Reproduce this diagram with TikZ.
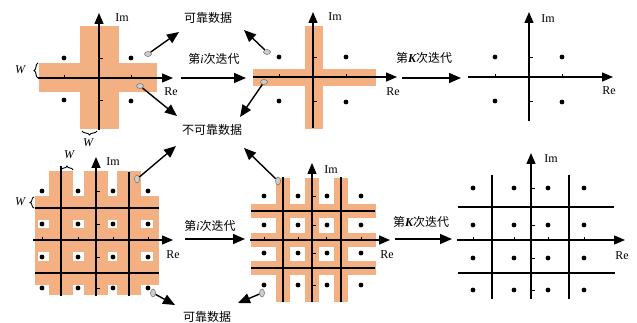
\documentclass[tikz,border=0pt]{standalone}
\usepackage{fontspec}
\setmainfont{Liberation Serif}
\newfontfamily\zhfont{Noto Sans CJK SC}
\usetikzlibrary{arrows.meta,decorations.pathreplacing,shapes.geometric}
\definecolor{regFill}{HTML}{F3B183}
\definecolor{markFill}{HTML}{CDCDCD}
\definecolor{markEdge}{HTML}{707070}
\tikzset{
  axisline/.style={line width=1.4pt,-{Triangle[length=11pt,width=9pt]}},
  gridline/.style={line width=1.9pt},
  tickline/.style={line width=0.9pt},
  datamark/.style={ellipse,draw=markEdge,fill=markFill,line width=0.5pt,inner sep=0pt,
                   minimum width=7pt,minimum height=5pt},
  datamarkv/.style={datamark,minimum width=5pt,minimum height=8pt},
  flow/.style={-{Triangle[length=12pt,width=10pt]},line width=1.4pt},
  axlbl/.style={font=\fontsize{12}{14}\selectfont,inner sep=0pt},
  wlbl/.style={font=\fontsize{12}{14}\selectfont\itshape,inner sep=0pt},
  zhlbl/.style={font=\fontsize{12}{14}\selectfont\zhfont,inner sep=0pt},
  wbrace/.style={decorate,decoration={brace,amplitude=4pt},line width=0.9pt},
}
\newcommand{\iterI}{第{\normalfont\itshape i}次迭代}
\newcommand{\iterK}{第{\normalfont\bfseries\itshape K}次迭代}

\begin{document}
\begin{tikzpicture}[x=1pt,y=-1pt]
  \useasboundingbox (0,0) rectangle (637,323);

  % top row, panel A
  \fill[regFill] (80,26) rectangle (119,129);
  \fill[regFill] (39,63) rectangle (157,92);
  \draw[axisline] (38,78) -- (173,78);
  \draw[axisline] (99,130) -- (99,13);
  \foreach \x in {64,131}{\draw[tickline] (\x,78) -- (\x,75);}
  \foreach \y in {58,100}{\draw[tickline] (99,\y) -- (103,\y);}
  \foreach \x/\y in {64/58,131/58,64/100,131/101}{\fill (\x,\y) circle (2.4pt);}
  \node[axlbl] (imA) at (122,18) {Im};
  \node[axlbl] (reA) at (171,92) {Re};
  \draw[wbrace] (38,78) -- (38,63);
  \node[wlbl] (wA1) at (20,70) {W};
  \draw[wbrace] (97,131) -- (82,131);
  \node[wlbl] (wA2) at (88,143) {W};

  % top row, panel B
  \fill[regFill] (305,26) rectangle (323,129);
  \fill[regFill] (253,69) rectangle (376,86);
  \draw[axisline] (253,77) -- (397,77);
  \draw[axisline] (313,128) -- (313,12);
  \foreach \x in {279,346}{\draw[tickline] (\x,77) -- (\x,74);}
  \foreach \y in {57,101}{\draw[tickline] (313,\y) -- (317,\y);}
  \foreach \x/\y in {279/57,346/57,279/101,346/102}{\fill (\x,\y) circle (2.4pt);}
  \node[axlbl] (imB) at (335,17) {Im};
  \node[axlbl] (reB) at (393,92) {Re};

  % top row, panel C
  \draw[axisline] (468,77) -- (613,77);
  \draw[axisline] (529,121) -- (529,12);
  \foreach \x in {495,562}{\draw[tickline] (\x,77) -- (\x,74);}
  \foreach \y in {57,101}{\draw[tickline] (529,\y) -- (533,\y);}
  \foreach \x/\y in {495/57,562/57,495/101,562/102}{\fill (\x,\y) circle (2.4pt);}
  \node[axlbl] (imC) at (548,19) {Im};
  \node[axlbl] (reC) at (609,91) {Re};

  % top row, labels and arrows
  \node[zhlbl] (relA) at (208,18) {可靠数据};
  \node[zhlbl] (unrel) at (212,130) {不可靠数据};
  \node[zhlbl] (itA) at (214,59) {\iterI};
  \node[zhlbl] (ktA) at (424,58) {\iterK};
  \coordinate (itA0) at (181,78);
  \coordinate (itA1) at (246,78);
  \coordinate (ktA0) at (402,78);
  \coordinate (ktA1) at (461,78);
  \draw[flow] (itA0) -- (itA1);
  \draw[flow] (ktA0) -- (ktA1);
  \node[datamark] (mA1) at (148,54) {};
  \node[datamark] (mA2) at (140,86) {};
  \node[datamark] (mB1) at (267,52) {};
  \node[datamark] (mB2) at (264,82) {};
  \coordinate (tA1) at (179,32);
  \coordinate (tA2) at (177,116);
  \coordinate (tB1) at (244,30);
  \coordinate (tB2) at (240,117);
  \foreach \a/\b in {mA1/tA1,mA2/tA2,mB1/tB1,mB2/tB2}{\draw[flow] (\a) -- (\b);}

  % bottom row, panel D
  \foreach \x in {61,96,129}{\fill[regFill] (\x-12,171) rectangle (\x+12,295);}
  \foreach \y in {208,240,273}{\fill[regFill] (35,\y-12) rectangle (159,\y+12);}
  \fill[regFill] (35,196) rectangle (38,285);
  \fill[regFill] (153,196) rectangle (159,285);
  \draw[gridline] (61,166) -- (61,296);
  \draw[gridline] (129,172) -- (129,296);
  \draw[gridline] (35,208) -- (159,208);
  \draw[gridline] (35,273) -- (159,273);
  \draw[axisline] (33,240) -- (173,240);
  \draw[axisline] (96,296) -- (96,157);
  \foreach \x in {42,78,113,148}{\draw[tickline] (\x,240) -- (\x,237);}
  \foreach \y in {191,224,257,288}{\draw[tickline] (96,\y) -- (100,\y);}
  \foreach \x in {42,78,113,148}{\foreach \y in {191,224,257,288}{\fill (\x,\y) circle (2.4pt);}}
  \node[axlbl] (imD) at (113,162) {Im};
  \node[axlbl] (reD) at (173,255) {Re};
  \draw[wbrace] (34,208) -- (34,197);
  \node[wlbl] (wD1) at (20,202) {W};
  \draw[wbrace] (61,170) -- (73,170);
  \node[wlbl] (wD2) at (69,155) {W};

  % bottom row, panel E
  \foreach \x in {283,312,341}{\fill[regFill] (\x-7,178) rectangle (\x+7,302);}
  \foreach \y in {211,240,268}{\fill[regFill] (251,\y-7) rectangle (376,\y+7);}
  \draw[gridline] (283,177) -- (283,302);
  \draw[gridline] (341,177) -- (341,302);
  \draw[gridline] (251,211) -- (375,211);
  \draw[gridline] (251,268) -- (375,268);
  \draw[axisline] (250,240) -- (390,240);
  \draw[axisline] (312,302) -- (312,163);
  \foreach \x in {264,298,326,361}{\draw[tickline] (\x,240) -- (\x,237);}
  \foreach \y in {196,225,253,285}{\draw[tickline] (312,\y) -- (316,\y);}
  \foreach \x in {264,298,327,361}{\foreach \y in {196,225,253,285}{\fill (\x,\y) circle (2.4pt);}}
  \node[axlbl] (imE) at (331,170) {Im};
  \node[axlbl] (reE) at (387,255) {Re};

  % bottom row, panel F
  \draw[gridline] (492,175) -- (492,299);
  \draw[gridline] (569,175) -- (569,299);
  \draw[gridline] (458,207) -- (614,207);
  \draw[gridline] (458,273) -- (615,273);
  \draw[axisline] (457,240) -- (625,240);
  \draw[axisline] (531,299) -- (531,153);
  \foreach \x in {473,514,548,584}{\draw[tickline] (\x,240) -- (\x,237);}
  \foreach \y in {188,225,258,290}{\draw[tickline] (531,\y) -- (535,\y);}
  \foreach \x in {473,514,548,584}{\foreach \y in {188,225,258,290}{\fill (\x,\y) circle (2.4pt);}}
  \node[axlbl] (imF) at (551,159) {Im};
  \node[axlbl] (reF) at (622,256) {Re};

  % bottom row, labels and arrows
  \node[zhlbl] (relB) at (207,317) {可靠数据};
  \node[zhlbl] (itB) at (210,226) {\iterI};
  \node[zhlbl] (ktB) at (421,222) {\iterK};
  \coordinate (itB0) at (185,239);
  \coordinate (itB1) at (245,239);
  \coordinate (ktB0) at (395,239);
  \coordinate (ktB1) at (452,239);
  \draw[flow] (itB0) -- (itB1);
  \draw[flow] (ktB0) -- (ktB1);
  \node[datamarkv] (mD1) at (137,179) {};
  \node[datamarkv] (mD2) at (153,293) {};
  \node[datamarkv] (mE1) at (278,181) {};
  \node[datamarkv] (mE2) at (262,293) {};
  \coordinate (tD1) at (176,146);
  \coordinate (tD2) at (175,305);
  \coordinate (tE1) at (244,148);
  \coordinate (tE2) at (238,303);
  \foreach \a/\b in {mD1/tD1,mD2/tD2,mE1/tE1,mE2/tE2}{\draw[flow] (\a) -- (\b);}
\end{tikzpicture}
\end{document}
